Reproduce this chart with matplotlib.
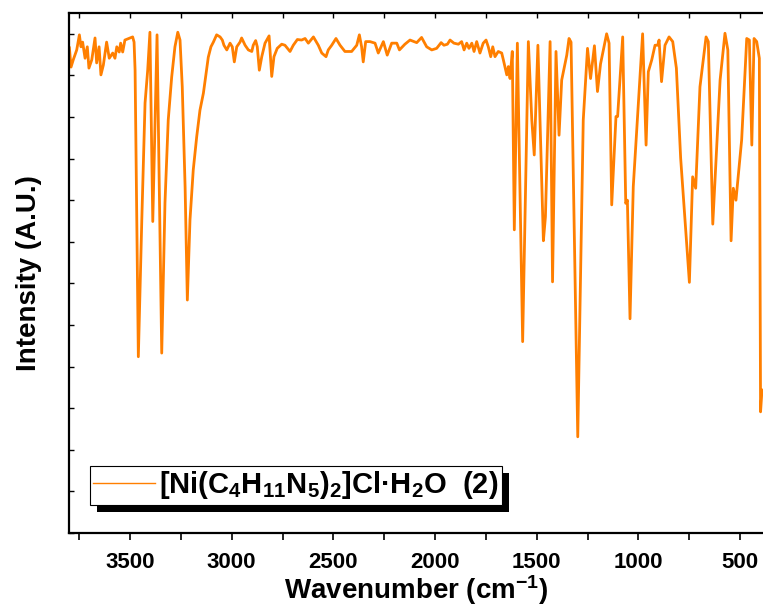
import matplotlib
matplotlib.use("Agg")
import matplotlib.pyplot as plt
from matplotlib.ticker import MultipleLocator
from matplotlib.patches import Rectangle

plt.rcParams['font.family'] = ['Liberation Sans', 'DejaVu Sans']
plt.rcParams['font.weight'] = 'bold'
plt.rcParams['mathtext.fontset'] = 'custom'
plt.rcParams['mathtext.rm'] = 'Liberation Sans:bold'
plt.rcParams['mathtext.bf'] = 'Liberation Sans:bold'
plt.rcParams['mathtext.it'] = 'Liberation Sans:bold'
plt.rcParams['mathtext.default'] = 'bf'

# IR spectrum (wavenumber in cm-1, intensity in arbitrary units)
wavenumber = [3798, 3790, 3779, 3762, 3749, 3741, 3733, 3721, 3710, 3702, 3688, 3672, 3664, 3652,
              3643, 3631, 3615, 3602, 3585, 3574, 3565, 3553, 3546, 3536, 3525, 3500, 3487, 3480,
              3475, 3459, 3442, 3426, 3413, 3402, 3388, 3367, 3344, 3328, 3312, 3295, 3279, 3265,
              3254, 3243, 3229, 3218, 3205, 3189, 3172, 3156, 3139, 3128, 3115, 3102, 3090, 3074,
              3057, 3046, 3038, 3024, 3008, 2997, 2987, 2975, 2959, 2951, 2934, 2918, 2901, 2894,
              2882, 2874, 2864, 2852, 2836, 2816, 2803, 2792, 2776, 2754, 2738, 2713, 2697, 2677,
              2656, 2639, 2623, 2598, 2574, 2557, 2536, 2525, 2508, 2487, 2467, 2443, 2410, 2385,
              2372, 2361, 2353, 2341, 2320, 2295, 2279, 2254, 2235, 2213, 2188, 2175, 2148, 2123,
              2090, 2066, 2041, 2016, 1992, 1970, 1956, 1939, 1926, 1907, 1885, 1869, 1857, 1844,
              1833, 1819, 1808, 1795, 1779, 1763, 1749, 1738, 1726, 1716, 1705, 1689, 1672, 1664,
              1647, 1639, 1631, 1620, 1610, 1595, 1569, 1541, 1524, 1512, 1494, 1467, 1457, 1434,
              1422, 1405, 1390, 1377, 1352, 1341, 1331, 1298, 1271, 1250, 1235, 1216, 1201, 1186,
              1156, 1144, 1131, 1110, 1102, 1077, 1062, 1054, 1041, 1025, 1000, 979, 962, 951,
              934, 918, 905, 898, 886, 869, 849, 831, 813, 792, 749, 733, 718, 697,
              667, 656, 634, 598, 574, 560, 544, 533, 520, 492, 467, 454, 442, 431,
              418, 405, 399, 392]
intensity = [93.3, 89.6, 91.0, 92.9, 95.8, 93.5, 94.4, 91.3, 93.5, 89.4, 91.0, 95.2, 90.4, 93.5,
             88.1, 90.0, 94.4, 91.3, 92.3, 91.3, 93.5, 92.5, 94.2, 92.5, 94.8, 95.2, 95.4, 94.4,
             89.0, 33.9, 60.2, 82.7, 89.0, 96.3, 59.9, 95.8, 34.6, 63.5, 79.4, 87.7, 93.5, 96.3,
             94.8, 85.8, 66.5, 44.8, 60.2, 69.8, 76.2, 81.3, 84.6, 87.7, 91.5, 93.5, 94.4, 95.8,
             95.4, 94.8, 93.8, 92.9, 94.2, 93.5, 90.6, 93.5, 94.4, 95.2, 93.8, 92.9, 92.6, 93.8,
             94.7, 93.5, 89.0, 91.6, 94.2, 95.6, 87.8, 91.6, 93.2, 94.0, 93.8, 92.6, 93.8, 94.9,
             94.8, 95.1, 94.2, 95.4, 93.8, 92.3, 91.6, 92.9, 93.8, 95.1, 93.8, 92.6, 92.6, 93.8,
             95.8, 93.5, 90.6, 94.5, 94.5, 94.2, 92.3, 94.5, 91.9, 94.2, 94.2, 92.9, 94.0, 94.8,
             94.3, 95.3, 93.5, 92.9, 93.2, 94.3, 93.8, 94.0, 94.8, 94.2, 94.0, 94.5, 92.9, 94.2,
             93.2, 94.2, 92.6, 94.5, 92.3, 94.2, 94.8, 93.5, 91.6, 93.5, 91.6, 92.6, 92.3, 91.0,
             88.1, 89.7, 87.4, 92.6, 58.3, 94.2, 36.8, 94.5, 79.4, 72.7, 93.8, 56.2, 60.8, 94.5,
             48.3, 92.6, 76.5, 87.1, 91.9, 95.1, 94.4, 18.5, 79.4, 93.2, 87.4, 93.7, 84.9, 90.2,
             96.0, 94.2, 63.1, 80.1, 80.1, 95.4, 63.4, 64.0, 41.2, 66.6, 82.6, 96.0, 74.6, 88.7,
             91.0, 93.8, 93.8, 94.8, 86.8, 93.8, 95.4, 94.5, 89.4, 72.1, 48.2, 68.5, 66.3, 85.8,
             95.4, 94.5, 59.4, 87.1, 96.1, 92.9, 56.2, 66.3, 64.0, 75.6, 95.1, 94.8, 74.6, 95.1,
             94.5, 91.3, 23.3, 27.5]

series_label = r'[Ni(C$_4$H$_{11}$N$_5$)$_2$]Cl·H$_2$O  (2)'
x_label = r'Wavenumber (cm$^{-1}$)'
y_label = 'Intensity (A.U.)'

fig = plt.figure(figsize=(7.63, 6.10), dpi=100)
ax = fig.add_axes([69 / 763, 1 - 533 / 610, 1 - 69 / 763, 520 / 610])

ax.plot(wavenumber, intensity, color='#FF7F00', lw=2.0, label=series_label,
        solid_joinstyle='round')

ax.set_xlim(3800, 387)
ax.set_ylim(0, 100)
ax.xaxis.set_major_locator(MultipleLocator(500))
ax.xaxis.set_minor_locator(MultipleLocator(250))
ax.yaxis.set_major_locator(MultipleLocator(8))
ax.set_yticklabels([])

for s in ['left', 'bottom', 'top']:
    ax.spines[s].set_linewidth(1.6)
ax.spines['right'].set_visible(False)

ax.tick_params(axis='x', which='both', direction='out', length=5, width=1.2,
               top=False, labelsize=16, pad=9)
ax.tick_params(axis='y', which='both', direction='in', length=3.5, width=1.0,
               left=True, right=False)
sec = ax.secondary_xaxis('top')
sec.spines['top'].set_visible(False)
sec.xaxis.set_major_locator(MultipleLocator(250))
sec.tick_params(axis='x', direction='in', length=3.5, width=1.0, labeltop=False)

for lab in ax.get_xticklabels():
    lab.set_fontweight('bold')

ax.set_xlabel(x_label, fontsize=20, fontweight='bold', labelpad=0)
ax.set_ylabel(y_label, fontsize=20, fontweight='bold', labelpad=16)

leg = ax.legend(loc='lower left', bbox_to_anchor=(0.030, 0.054), borderaxespad=0,
                fontsize=21, frameon=True, fancybox=False, shadow=False, framealpha=1,
                handlelength=2.1, handletextpad=0.15, borderpad=0.12)
leg.get_frame().set_edgecolor('black')
leg.get_frame().set_linewidth(0.8)
leg.get_lines()[0].set_linewidth(1.0)
for t in leg.get_texts():
    t.set_fontweight('bold')

fig.canvas.draw()
bb = leg.get_window_extent()
shadow = Rectangle((bb.x0 + 7, bb.y0 - 7), bb.width, bb.height, transform=None,
                   facecolor='black', edgecolor='none', zorder=4.9)
ax.add_artist(shadow)

fig.savefig('out.png', dpi=100)
